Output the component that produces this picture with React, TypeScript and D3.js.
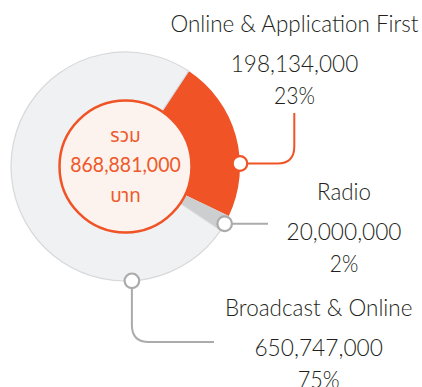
import React from "react";
import * as d3 from "d3";

// Budget split by channel (Thai baht)
const categories = ["Online & Application First", "Radio", "Broadcast & Online"];
const amounts = [198134000, 20000000, 650747000];
const amountLabels = ["198,134,000", "20,000,000", "650,747,000"];
const percentLabels = ["23%", "2%", "75%"];
const totalLabel = "868,881,000";
const totalPrefix = "รวม";
const totalUnit = "บาท";
const sliceColors = ["#F05325", "#CDCED0", "#F0F1F3"];
const leaderColors = ["#F05325", "#ABABAB", "#ABABAB"];
// angle (degrees, clockwise from 12 o'clock) where each callout dot sits on the ring
const calloutAngles = [88.5, 120, 176.8];

const W = 422;
const H = 387;
const cx = 125.5;
const cy = 166.5;
const outerR = 114.5;
const innerR = 66;
const startDeg = 33.5;

const FONT = "Lato, 'Noto Sans', sans-serif";
const THAI_FONT = "'Noto Sans Thai', 'Noto Sans', Lato, sans-serif";

export default function App() {
  const pie = d3
    .pie<number>()
    .sort(null)
    .value((d) => d)
    .startAngle((startDeg * Math.PI) / 180)
    .endAngle((startDeg * Math.PI) / 180 + 2 * Math.PI);
  const arcs = pie(amounts);
  const arcGen = d3.arc<d3.PieArcDatum<number>>().innerRadius(innerR - 8).outerRadius(outerR);

  const pt = (deg: number, r: number) => {
    const a = (deg * Math.PI) / 180;
    return [cx + r * Math.sin(a), cy - r * Math.cos(a)];
  };
  const dots = calloutAngles.map((a) => pt(a, outerR));

  // leader paths
  const rr = 17;
  const [d0x, d0y] = dots[0];
  const lx0 = 294.3;
  const leader0 = `M${d0x},${d0y} H${lx0 - rr} Q${lx0},${d0y} ${lx0},${d0y - rr} V113`;
  const [d1x, d1y] = dots[1];
  const leader1 = `M${d1x},${d1y} H268`;
  const [d2x, d2y] = dots[2];
  const ly2 = 342;
  const leader2 = `M${d2x},${d2y} V${ly2 - rr} Q${d2x},${ly2} ${d2x + rr},${ly2} H214`;
  const leaders = [leader0, leader1, leader2];

  const labelLayout = [
    { x: 294.5, title: 31.7, amount: 71.7, pct: 104, tw: 248, aw: 127.5, pw: 41 },
    { x: 344, title: 200, amount: 240, pct: 271.7, tw: 54, aw: 115, pw: 28.5 },
    { x: 318.7, title: 315.7, amount: 356, pct: 387.5, tw: 187.5, aw: 128.5, pw: 42 },
  ];

  return (
    <svg width={W} height={H} style={{ position: "absolute", left: 0, top: 0 }}>
      <rect width={W} height={H} fill="#ffffff" />
      <g transform={`translate(${cx},${cy})`}>
        {arcs.map((a, i) => (
          <path
            key={i}
            d={arcGen(a) || ""}
            fill={sliceColors[i]}
            stroke={i === 2 ? "#D7D8DA" : "none"}
            strokeWidth={1.2}
          />
        ))}
        <circle r={innerR} fill="#FCF3EE" stroke="#F05325" strokeWidth={2.5} />
        <text x={0} y={141.7 - cy} textAnchor="middle" fontFamily={THAI_FONT} fontSize={19} fill="#EE5A2B">
          {totalPrefix}
        </text>
        <text
          x={0}
          y={172.3 - cy}
          textAnchor="middle"
          fontFamily={FONT}
          fontSize={21.5}
          fill="#EE5A2B"
          textLength={110.5}
          lengthAdjust="spacingAndGlyphs"
        >
          {totalLabel}
        </text>
        <text x={0} y={202.3 - cy} textAnchor="middle" fontFamily={THAI_FONT} fontSize={19} fill="#EE5A2B">
          {totalUnit}
        </text>
      </g>
      {leaders.map((d, i) => (
        <path key={i} d={d} fill="none" stroke={leaderColors[i]} strokeWidth={2} />
      ))}
      {dots.map(([x, y], i) => (
        <circle key={i} cx={x} cy={y} r={7.3} fill="#ffffff" stroke={leaderColors[i]} strokeWidth={2.2} />
      ))}
      {categories.map((c, i) => {
        const L = labelLayout[i];
        return (
          <g key={c} fontFamily={FONT} fontWeight={300} fill="#231F20" textAnchor="middle" fontSize={23.5}>
            <text x={L.x} y={L.title} textLength={L.tw} lengthAdjust="spacingAndGlyphs">
              {c}
            </text>
            <text x={L.x} y={L.amount} textLength={L.aw} lengthAdjust="spacingAndGlyphs">
              {amountLabels[i]}
            </text>
            <text x={L.x} y={L.pct} textLength={L.pw} lengthAdjust="spacingAndGlyphs">
              {percentLabels[i]}
            </text>
          </g>
        );
      })}
    </svg>
  );
}
